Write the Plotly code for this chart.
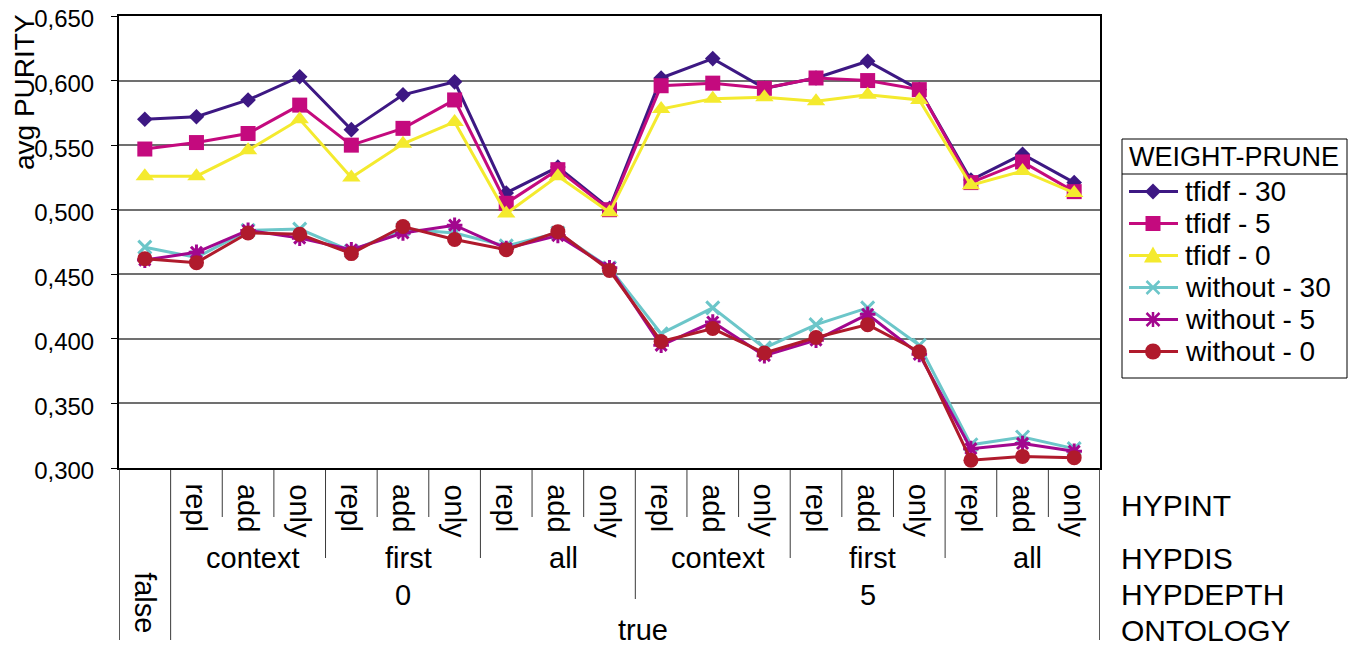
import plotly.graph_objects as go

# ---------------- data ----------------
ontology = ["false"] + ["true"] * 18
hypdepth = [""] + ["0"] * 9 + ["5"] * 9
hypdis = [""] + ["context"] * 3 + ["first"] * 3 + ["all"] * 3 + ["context"] * 3 + ["first"] * 3 + ["all"] * 3
hypint = [""] + ["repl", "add", "only"] * 6
level_names = ["HYPINT", "HYPDIS", "HYPDEPTH", "ONTOLOGY"]
legend_title = "WEIGHT-PRUNE"

series_names = ["tfidf - 30", "tfidf - 5", "tfidf - 0", "without - 30", "without - 5", "without - 0"]
tfidf_30 = [0.570, 0.572, 0.585, 0.603, 0.562, 0.589, 0.599, 0.513, 0.533, 0.501,
            0.602, 0.617, 0.594, 0.602, 0.615, 0.593, 0.523, 0.543, 0.521]
tfidf_5 = [0.547, 0.552, 0.559, 0.581, 0.550, 0.563, 0.585, 0.505, 0.531, 0.500,
           0.596, 0.598, 0.594, 0.602, 0.600, 0.593, 0.521, 0.537, 0.514]
tfidf_0 = [0.526, 0.526, 0.546, 0.570, 0.525, 0.551, 0.568, 0.497, 0.526, 0.498,
           0.578, 0.586, 0.587, 0.584, 0.589, 0.585, 0.519, 0.530, 0.513]
without_30 = [0.471, 0.463, 0.484, 0.485, 0.468, 0.485, 0.482, 0.472, 0.482, 0.455,
              0.404, 0.424, 0.393, 0.411, 0.424, 0.395, 0.318, 0.324, 0.315]
without_5 = [0.461, 0.467, 0.484, 0.478, 0.469, 0.482, 0.488, 0.470, 0.480, 0.455,
             0.395, 0.413, 0.387, 0.399, 0.419, 0.388, 0.315, 0.319, 0.313]
without_0 = [0.462, 0.459, 0.482, 0.481, 0.466, 0.487, 0.477, 0.469, 0.483, 0.453,
             0.398, 0.408, 0.389, 0.401, 0.411, 0.390, 0.306, 0.309, 0.308]
series_values = [tfidf_30, tfidf_5, tfidf_0, without_30, without_5, without_0]

# ---------------- styles ----------------
colors = ["#3d1883", "#c40a7e", "#f4ea2e", "#6cc6c9", "#a2078e", "#b01a2c"]
symbols = ["diamond", "square", "triangle-up", "x-thin", "asterisk", "circle"]
sizes = [12, 15, 16, 13, 13, 15]
FONT = "Liberation Sans, Arial, sans-serif"
LABEL_SIZE = 29

# screen geometry (page body has an 8px margin)
OX, OY = 8, 8
SCREEN_W, SCREEN_H = 1361, 646
L, R, T, B = 119, 1100, 16, 468   # plot area on screen
FW, FH = SCREEN_W - OX, SCREEN_H - OY


def sy(p):
    return (B - p) / (B - T)


def sx(p):
    return (p - L) / (R - L)


n = len(hypint)
xs = list(range(n))

fig = go.Figure()
for name, vals, col, sym, sz in zip(series_names, series_values, colors, symbols, sizes):
    open_sym = sym in ("x-thin", "asterisk")
    fig.add_trace(go.Scatter(
        x=xs, y=vals, name=name, mode="lines+markers", showlegend=False,
        line=dict(color=col, width=3),
        marker=dict(symbol=sym, size=sz, color=col,
                    line=dict(color=col, width=3 if open_sym else 0)),
    ))

annotations = []
shapes = []
lab_font = dict(size=LABEL_SIZE, color="black", family=FONT)

# HYPINT labels (rotated)
for i, lab in enumerate(hypint):
    if lab:
        annotations.append(dict(x=i, y=sy(482), xref="x", yref="paper", text=lab,
                                textangle=90, xanchor="center", yanchor="top",
                                showarrow=False, font=lab_font))


def runs(lst, start):
    out = []
    s = start
    for i in range(start + 1, len(lst) + 1):
        if i == len(lst) or lst[i] != lst[s]:
            out.append((s, i - 1, lst[s]))
            s = i
    return out


for (a, b, lab) in runs(hypdis, 1):
    annotations.append(dict(x=(a + b) / 2 + 0.1, y=sy(558), xref="x", yref="paper", text=lab,
                            xanchor="center", yanchor="middle", showarrow=False, font=lab_font))
for (a, b, lab) in runs(hypdepth, 1):
    annotations.append(dict(x=(a + b) / 2, y=sy(595), xref="x", yref="paper", text=lab,
                            xanchor="center", yanchor="middle", showarrow=False, font=lab_font))
for (a, b, lab) in runs(ontology, 0):
    if a == b:
        annotations.append(dict(x=a, y=sy(603), xref="x", yref="paper", text=lab,
                                textangle=90, xanchor="center", yanchor="middle", showarrow=False,
                                font=lab_font))
    else:
        annotations.append(dict(x=(a + b) / 2 + 0.15, y=sy(630), xref="x", yref="paper", text=lab,
                                xanchor="center", yanchor="middle", showarrow=False, font=lab_font))

# level names on the right
for lab, yy in zip(level_names, [505, 558, 594, 630]):
    annotations.append(dict(x=sx(1119), y=sy(yy), xref="paper", yref="paper", text=lab,
                            xanchor="left", yanchor="middle", showarrow=False,
                            font=dict(size=30, color="black", family=FONT)))

# y-axis title
annotations.append(dict(x=sx(24), y=sy(92), xref="paper", yref="paper", text="avg PURITY",
                        textangle=-90, xanchor="center", yanchor="middle", showarrow=False,
                        font=dict(size=28, color="black", family=FONT)))

# divider lines below the axis
line_style = dict(color="#3a3a3a", width=1)
for i in range(n - 1):
    if ontology[i] != ontology[i + 1]:
        bottom = 640
    elif hypdepth[i] != hypdepth[i + 1]:
        bottom = 599
    elif hypdis[i] != hypdis[i + 1]:
        bottom = 558
    else:
        bottom = 517
    shapes.append(dict(type="line", xref="x", yref="paper", x0=i + 0.5, x1=i + 0.5,
                       y0=sy(470), y1=sy(bottom), line=line_style))
for xe in (-0.5, n - 0.5):
    shapes.append(dict(type="line", xref="x", yref="paper", x0=xe, x1=xe,
                       y0=sy(468), y1=sy(640), line=dict(color="#222", width=1.5)))

# ---------------- legend (drawn as decoration) ----------------
LG_L, LG_R, LG_T, LG_B, LG_TITLE_B = 1122, 1347, 139, 378, 174
shapes.append(dict(type="rect", xref="paper", yref="paper", x0=sx(LG_L), x1=sx(LG_R),
                   y0=sy(LG_B), y1=sy(LG_T), line=dict(color="black", width=1), fillcolor="white",
                   layer="above"))
shapes.append(dict(type="line", xref="paper", yref="paper", x0=sx(LG_L), x1=sx(LG_R),
                   y0=sy(LG_TITLE_B), y1=sy(LG_TITLE_B), line=dict(color="black", width=1)))
annotations.append(dict(x=sx(1127), y=sy(157), xref="paper", yref="paper", text=legend_title,
                        xanchor="left", yanchor="middle", showarrow=False,
                        font=dict(size=27, color="black", family=FONT)))


def ppath(points):
    s = "M " + " L ".join(f"{sx(a):.5f},{sy(b):.5f}" for a, b in points) + " Z"
    return s


for k, (name, col, sym) in enumerate(zip(series_names, colors, symbols)):
    yc = 191.5 + 32 * k
    cx = 1153
    shapes.append(dict(type="line", xref="paper", yref="paper", x0=sx(1129), x1=sx(1178),
                       y0=sy(yc), y1=sy(yc), line=dict(color=col, width=3)))
    if sym == "diamond":
        d = 8
        shapes.append(dict(type="path", xref="paper", yref="paper",
                           path=ppath([(cx, yc - d), (cx + d, yc), (cx, yc + d), (cx - d, yc)]),
                           fillcolor=col, line=dict(width=0)))
    elif sym == "square":
        d = 7.5
        shapes.append(dict(type="rect", xref="paper", yref="paper", x0=sx(cx - d), x1=sx(cx + d),
                           y0=sy(yc + d), y1=sy(yc - d), fillcolor=col, line=dict(width=0)))
    elif sym == "triangle-up":
        shapes.append(dict(type="path", xref="paper", yref="paper",
                           path=ppath([(cx, yc - 9), (cx + 9, yc + 7), (cx - 9, yc + 7)]),
                           fillcolor=col, line=dict(width=0)))
    elif sym == "circle":
        d = 8
        shapes.append(dict(type="circle", xref="paper", yref="paper", x0=sx(cx - d), x1=sx(cx + d),
                           y0=sy(yc + d), y1=sy(yc - d), fillcolor=col, line=dict(width=0)))
    else:
        d = 6.5
        segs = [((cx - d, yc - d), (cx + d, yc + d)), ((cx - d, yc + d), (cx + d, yc - d))]
        if sym == "asterisk":
            segs += [((cx, yc - d - 1), (cx, yc + d + 1))]
        for (a, b) in segs:
            shapes.append(dict(type="line", xref="paper", yref="paper", x0=sx(a[0]), x1=sx(b[0]),
                               y0=sy(a[1]), y1=sy(b[1]), line=dict(color=col, width=2.5)))
    annotations.append(dict(x=sx(1183), y=sy(yc), xref="paper", yref="paper", text=name,
                            xanchor="left", yanchor="middle", showarrow=False,
                            font=dict(size=28, color="black", family=FONT)))

fig.update_layout(
    width=FW, height=FH,
    margin=dict(l=L - OX, r=SCREEN_W - R, t=T - OY, b=SCREEN_H - B, pad=0, autoexpand=False),
    paper_bgcolor="white", plot_bgcolor="white",
    separators=",.",
    font=dict(family=FONT, color="black"),
    showlegend=False,
    xaxis=dict(range=[-0.5, n - 0.5], showticklabels=False, showgrid=False, zeroline=False,
               showline=True, linecolor="black", linewidth=2, mirror=True, ticks="",
               automargin=False),
    yaxis=dict(range=[0.300, 0.650], dtick=0.05, tick0=0.3, tickformat=".3f",
               showgrid=True, gridcolor="#707070", gridwidth=1.5, zeroline=False,
               showline=True, linecolor="black", linewidth=2, mirror=True,
               ticks="outside", ticklen=6, tickcolor="black", ticklabelstandoff=12,
               ticklabelshift=3, ticklabeloverflow="allow", automargin=False,
               tickfont=dict(size=24, family=FONT, color="black")),
    annotations=annotations,
    shapes=shapes,
)

fig.write_html("out.html")
